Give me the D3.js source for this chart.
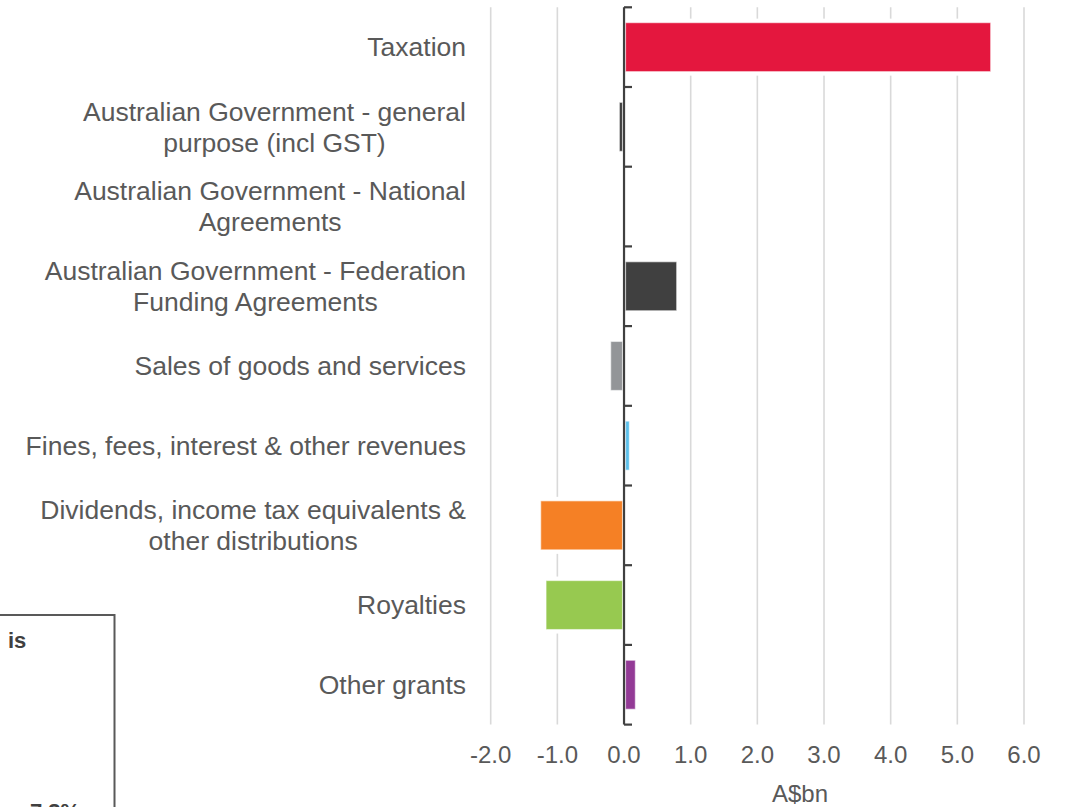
<!DOCTYPE html>
<html>
<head>
<meta charset="utf-8">
<script src="https://cdn.jsdelivr.net/npm/d3@7"></script>
<style>
  html, body { margin: 0; padding: 0; background: #ffffff; }
  svg { display: block; font-family: "Liberation Sans", Arial, sans-serif; }
</style>
</head>
<body>
<svg id="chart" width="1066" height="807"></svg>
<script>
// Revenue variation by source, A$bn
const categories = [
  "Taxation",
  "Australian Government - general purpose (incl GST)",
  "Australian Government - National Agreements",
  "Australian Government - Federation Funding Agreements",
  "Sales of goods and services",
  "Fines, fees, interest & other revenues",
  "Dividends, income tax equivalents & other distributions",
  "Royalties",
  "Other grants"
];
// Wrapped label lines, as laid out on the axis
const labelLines = [
  ["Taxation"],
  ["Australian Government - general", "purpose (incl GST)"],
  ["Australian Government - National", "Agreements"],
  ["Australian Government - Federation", "Funding Agreements"],
  ["Sales of goods and services"],
  ["Fines, fees, interest & other revenues"],
  ["Dividends, income tax equivalents &", "other distributions"],
  ["Royalties"],
  ["Other grants"]
];
const values = [5.50, -0.07, 0.0, 0.79, -0.20, 0.08, -1.25, -1.17, 0.17];
const barColors = ["#e4173e", "#404040", "#404040", "#404040", "#939598",
                   "#5bc0eb", "#f58025", "#97c950", "#933a96"];
const xTicks = [-2, -1, 0, 1, 2, 3, 4, 5, 6];
const axisTitle = "A$bn";

(function draw() {
  const svg = d3.select("#chart");
  const textColor = "#595959";
  const axisColor = "#404040";

  const x = d3.scaleLinear().domain([-2, 6]).range([490.7, 1024]);
  const y = d3.scaleBand().domain(categories).range([7.3, 724.6])
    .paddingInner(0.385).paddingOuter(0.1925);

  const plotTop = y.range()[0], plotBottom = y.range()[1];

  // vertical gridlines
  svg.append("g").selectAll("line").data(xTicks).join("line")
    .attr("x1", d => x(d)).attr("x2", d => x(d))
    .attr("y1", plotTop).attr("y2", plotBottom)
    .attr("stroke", "#d9d9d9").attr("stroke-width", 1.6);

  const bars = categories.map((c, i) => ({c, v: values[i], col: barColors[i]}))
    .filter(d => d.v !== 0);

  // white halo under each bar (breaks the gridlines around it)
  svg.append("g").selectAll("rect").data(bars).join("rect")
    .attr("x", d => Math.min(x(0), x(d.v)) - 1)
    .attr("width", d => Math.abs(x(d.v) - x(0)) + 2)
    .attr("y", d => y(d.c) - 4)
    .attr("height", y.bandwidth() + 8)
    .attr("fill", "#ffffff");

  // bars, inset slightly from the zero line
  const inset = 1.5;
  svg.append("g").selectAll("rect").data(bars).join("rect")
    .attr("x", d => d.v < 0 ? x(d.v) : x(0) + inset)
    .attr("width", d => Math.max(1, Math.abs(x(d.v) - x(0)) - inset))
    .attr("y", d => y(d.c))
    .attr("height", y.bandwidth())
    .attr("fill", d => d.col)
    .attr("stroke", "rgba(255,255,255,0.55)")
    .attr("stroke-width", 1.2);

  // category axis at zero, ticks between bands pointing right
  const boundaries = categories.map(c => y(c) - y.step() * y.paddingInner() / 2);
  boundaries.push(plotBottom);
  const ax = svg.append("g");
  ax.append("line")
    .attr("x1", x(0)).attr("x2", x(0))
    .attr("y1", plotTop).attr("y2", plotBottom)
    .attr("stroke", axisColor).attr("stroke-width", 2.2);
  ax.selectAll("line.tick").data(boundaries).join("line")
    .attr("class", "tick")
    .attr("x1", x(0)).attr("x2", x(0) + 8)
    .attr("y1", d => d).attr("y2", d => d)
    .attr("stroke", axisColor).attr("stroke-width", 2.2);

  // category labels: block right-aligned, lines centred within the block
  const labelRight = 466;
  const lineGap = 31;
  const lg = svg.append("g").attr("font-size", 26.5).attr("fill", textColor);
  labelLines.forEach((lines, i) => {
    const cy = y(categories[i]) + y.bandwidth() / 2;
    const grp = lg.append("g");
    const texts = lines.map((t, k) => grp.append("text")
      .attr("y", cy + (k - (lines.length - 1) / 2) * lineGap)
      .attr("dy", "0.35em")
      .attr("text-anchor", "middle")
      .text(t));
    const maxW = d3.max(texts, t => t.node().getComputedTextLength());
    texts.forEach(t => t.attr("x", labelRight - maxW / 2));
  });

  // value axis labels (plain hyphen for negatives)
  const fmt = d => d3.format(".1f")(d).replace("\u2212", "-");
  svg.append("g").attr("font-size", 24).attr("fill", textColor)
    .selectAll("text").data(xTicks).join("text")
    .attr("x", d => x(d)).attr("y", 763)
    .attr("text-anchor", "middle")
    .text(fmt);

  svg.append("text")
    .attr("x", 800).attr("y", 802)
    .attr("text-anchor", "middle")
    .attr("font-size", 24).attr("fill", textColor)
    .text(axisTitle);

  // overlapping callout box at lower left
  const box = svg.append("g");
  box.append("rect")
    .attr("x", -10).attr("y", 615).attr("width", 124.5).attr("height", 220)
    .attr("fill", "#ffffff").attr("stroke", textColor).attr("stroke-width", 2);
  box.append("text")
    .attr("x", 8).attr("y", 648)
    .attr("font-size", 22).attr("font-weight", "bold").attr("fill", "#404040")
    .text("is");
  box.append("text")
    .attr("x", 30).attr("y", 819)
    .attr("font-size", 22).attr("font-weight", "bold").attr("fill", "#404040")
    .text("7.3%");
})();
</script>
</body>
</html>
